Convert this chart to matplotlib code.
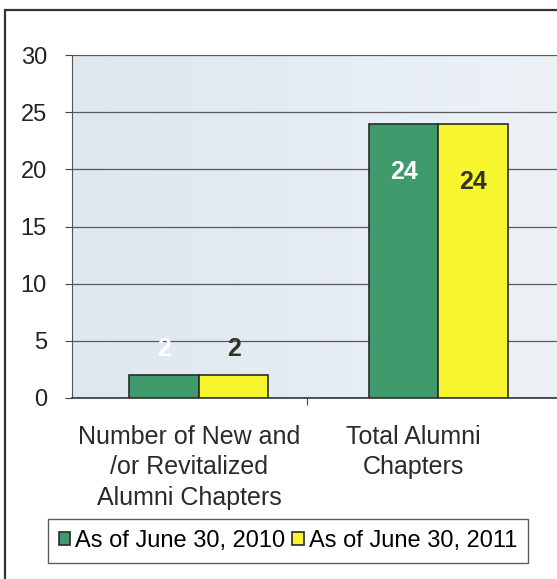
import matplotlib
matplotlib.use("Agg")
import matplotlib.pyplot as plt
import numpy as np
from matplotlib.patches import Rectangle

categories = ["Number of New and\n/or Revitalized\nAlumni Chapters", "Total Alumni\nChapters"]
series_names = ["As of June 30, 2010", "As of June 30, 2011"]
values_2010 = [2, 24]
values_2011 = [2, 24]
y_ticks = [0, 5, 10, 15, 20, 25, 30]

plt.rcParams['font.family'] = ['Liberation Sans', 'DejaVu Sans']

W, H = 557, 579
fig = plt.figure(figsize=(W / 100, H / 100), dpi=100)
fig.patch.set_facecolor("white")

# outer frame of the chart
fig.add_artist(Rectangle((5 / W, -0.05), 1.0, 1 - 10 / H + 0.05, transform=fig.transFigure,
                         fill=False, edgecolor="#333333", linewidth=1.6))

ax_left, ax_right = 72, 570
ax_top, ax_bot = 55, 398
ax = fig.add_axes([ax_left / W, (H - ax_bot) / H, (ax_right - ax_left) / W, (ax_bot - ax_top) / H])

# soft blue plot-area fill
grad = np.linspace(0, 1, 256)[None, :]
cmap = matplotlib.colors.LinearSegmentedColormap.from_list("bg", ["#dde7f0", "#edf2f6"])
ax.imshow(grad, extent=(-0.53, 1.55, 0, 30), aspect="auto", cmap=cmap, zorder=0)

green = "#3f9a6c"
yellow = "#f7f52e"
bw = 0.29
x = np.arange(len(categories))
b1 = ax.bar(x - bw / 2, values_2010, bw, color=green, edgecolor="#2a2a2a", linewidth=1.2,
            zorder=3, label=series_names[0])
b2 = ax.bar(x + bw / 2, values_2011, bw, color=yellow, edgecolor="#2a2a2a", linewidth=1.2,
            zorder=3, label=series_names[1])

ax.set_xlim(-0.53, 1.55)
ax.set_ylim(0, 30)
ax.set_yticks(y_ticks)
ax.set_yticklabels([str(t) for t in y_ticks], fontsize=17, color="#222222")
ax.yaxis.grid(True, color="#5a5a5a", linewidth=0.9, zorder=1)
ax.set_axisbelow(True)
ax.tick_params(axis="y", length=5, width=0.8, color="#444444", pad=13)
ax.set_xticks([0.45])
ax.set_xticklabels([""])
ax.tick_params(axis="x", length=5, width=0.8, color="#444444", direction="out")
for s in ["top", "right"]:
    ax.spines[s].set_visible(False)
ax.spines["left"].set_color("#555555")
ax.spines["bottom"].set_color("#333333")
ax.spines["bottom"].set_linewidth(1.2)

# value labels
for i, v in enumerate(values_2010):
    yy = v - 4.2 if v > 5 else v + 2.3
    ax.text(x[i] - bw / 2, yy, str(v), ha="center", va="center", fontsize=18, fontweight="bold",
            color="white", zorder=4)
for i, v in enumerate(values_2011):
    yy = v - 5.1 if v > 5 else v + 2.3
    ax.text(x[i] + bw / 2, yy, str(v), ha="center", va="center", fontsize=18, fontweight="bold",
            color="#333322", zorder=4)

# category labels
label_px = [189, 413]
for lx, cat in zip(label_px, categories):
    fig.text(lx / W, 1 - 425 / H, cat, ha="center", va="top", fontsize=18, color="#2a2a2a",
             linespacing=1.33)

leg = fig.legend(handles=[b1, b2], labels=series_names, loc="center",
                 bbox_to_anchor=(288 / W, 1 - 541 / H), ncol=2, fontsize=17, frameon=True,
                 fancybox=False, edgecolor="#333333", handlelength=0.5, handleheight=0.5,
                 handletextpad=0.2, columnspacing=0.3, borderpad=0.45, borderaxespad=0)
leg.get_frame().set_linewidth(1.0)

fig.savefig("out.png", dpi=100)
